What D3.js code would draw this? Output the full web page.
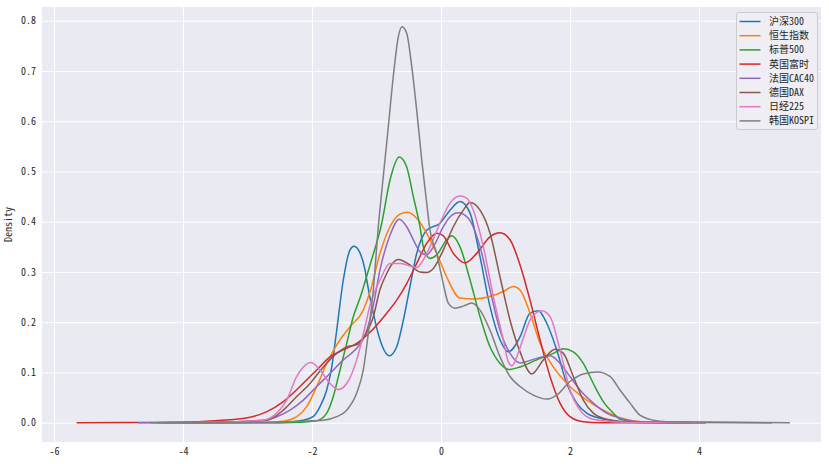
<!DOCTYPE html>
<html><head><meta charset="utf-8">
<script src="https://cdn.jsdelivr.net/npm/d3@7"></script>
<style>body{margin:0;background:#fff}text{font-family:"Noto Sans Mono CJK SC","Noto Sans CJK SC","DejaVu Sans",sans-serif}</style>
</head><body><svg id="c" width="829" height="464"></svg>
<script>
const seriesNames = ["沪深300","恒生指数","标普500","英国富时","法国CAC40","德国DAX","日经225","韩国KOSPI"];
const colors = ["#1f77b4","#ff7f0e","#2ca02c","#d62728","#9467bd","#8c564b","#e377c2","#7f7f7f"];
const xTicks = [-6,-4,-2,0,2,4];
const yTicks = [0,0.1,0.2,0.3,0.4,0.5,0.6,0.7,0.8];

const hs300 = [[-4.3,0],[-2.5,0],[-2.14,0.005],[-1.984,0.012],[-1.876,0.032],[-1.772,0.065],[-1.695,0.11],[-1.617,0.184],[-1.515,0.284],[-1.411,0.344],[-1.349,0.351],[-1.256,0.338],[-1.178,0.304],[-1.152,0.284],[-1.05,0.218],[-0.946,0.165],[-0.802,0.133],[-0.687,0.151],[-0.584,0.204],[-0.481,0.271],[-0.377,0.337],[-0.222,0.383],[-0.016,0.397],[0.14,0.423],[0.295,0.44],[0.45,0.417],[0.605,0.33],[0.76,0.231],[0.915,0.165],[1.043,0.141],[1.225,0.171],[1.38,0.218],[1.509,0.223],[1.639,0.198],[1.794,0.145],[1.948,0.078],[2.104,0.039],[2.259,0.019],[2.465,0.009],[2.667,0.004],[3.085,0.0005],[4.1,0]];
const hsi = [[-4.2,0],[-2.8,0.0005],[-2.45,0.003],[-2.237,0.012],[-2.082,0.032],[-1.927,0.072],[-1.772,0.118],[-1.617,0.155],[-1.411,0.191],[-1.205,0.224],[-1.101,0.26],[-0.946,0.337],[-0.791,0.39],[-0.636,0.415],[-0.52,0.419],[-0.377,0.407],[-0.222,0.377],[-0.067,0.337],[0.088,0.29],[0.295,0.248],[0.501,0.246],[0.76,0.251],[0.966,0.261],[1.121,0.271],[1.225,0.264],[1.38,0.218],[1.535,0.158],[1.741,0.111],[2.0,0.072],[2.259,0.045],[2.516,0.025],[2.775,0.01],[2.977,0.004],[3.4,0.0006],[4.1,0]];
const sp500 = [[-4.0,0],[-2.3,0.0005],[-1.927,0.004],[-1.772,0.019],[-1.67,0.052],[-1.566,0.105],[-1.462,0.158],[-1.36,0.211],[-1.256,0.248],[-1.101,0.314],[-0.919,0.397],[-0.791,0.483],[-0.647,0.529],[-0.532,0.509],[-0.429,0.45],[-0.326,0.39],[-0.274,0.35],[-0.171,0.327],[-0.067,0.334],[0.088,0.364],[0.166,0.372],[0.295,0.35],[0.45,0.284],[0.605,0.211],[0.76,0.151],[0.915,0.118],[1.07,0.106],[1.225,0.111],[1.484,0.125],[1.741,0.138],[1.896,0.147],[2.051,0.141],[2.206,0.118],[2.361,0.078],[2.516,0.042],[2.671,0.019],[2.775,0.007],[3.085,0.001],[4.0,0]];
const ftse = [[-5.65,0],[-4.5,0.0005],[-4.0,0.001],[-3.5,0.004],[-2.96,0.011],[-2.70,0.022],[-2.445,0.042],[-2.186,0.072],[-1.927,0.105],[-1.721,0.131],[-1.515,0.145],[-1.307,0.158],[-1.101,0.18],[-0.842,0.218],[-0.687,0.244],[-0.532,0.277],[-0.377,0.317],[-0.222,0.357],[-0.067,0.377],[0.036,0.372],[0.191,0.337],[0.372,0.318],[0.553,0.337],[0.76,0.37],[0.915,0.378],[1.07,0.364],[1.225,0.314],[1.38,0.244],[1.535,0.165],[1.69,0.092],[1.845,0.039],[2.0,0.012],[2.206,0.002],[2.465,0],[3.9,0]];
const cac40 = [[-4.7,0],[-3.5,0.001],[-2.755,0.005],[-2.547,0.012],[-2.341,0.025],[-2.135,0.045],[-1.927,0.072],[-1.721,0.098],[-1.515,0.125],[-1.307,0.148],[-1.205,0.166],[-1.05,0.233],[-0.946,0.304],[-0.791,0.373],[-0.647,0.405],[-0.532,0.39],[-0.429,0.364],[-0.326,0.34],[-0.222,0.334],[-0.119,0.35],[0.036,0.39],[0.14,0.41],[0.268,0.418],[0.423,0.407],[0.605,0.35],[0.76,0.264],[0.915,0.184],[1.07,0.138],[1.225,0.119],[1.484,0.128],[1.69,0.133],[1.845,0.118],[2.0,0.092],[2.155,0.065],[2.361,0.039],[2.569,0.019],[2.775,0.009],[3.085,0.002],[4.1,0]];
const dax = [[-4.4,0],[-3.5,0.001],[-2.70,0.005],[-2.445,0.025],[-2.237,0.052],[-2.031,0.078],[-1.825,0.111],[-1.617,0.138],[-1.462,0.151],[-1.307,0.155],[-1.205,0.169],[-1.05,0.211],[-0.946,0.265],[-0.842,0.297],[-0.76,0.316],[-0.662,0.325],[-0.481,0.314],[-0.326,0.30],[-0.222,0.299],[-0.119,0.307],[0.036,0.344],[0.191,0.39],[0.346,0.423],[0.45,0.438],[0.605,0.423],[0.76,0.377],[0.915,0.29],[1.07,0.204],[1.225,0.141],[1.406,0.097],[1.586,0.125],[1.767,0.146],[1.896,0.138],[2.051,0.092],[2.206,0.045],[2.361,0.019],[2.569,0.007],[2.93,0.001],[5.13,0]];
const n225 = [[-4.4,0],[-3.5,0.001],[-2.755,0.005],[-2.547,0.019],[-2.392,0.045],[-2.237,0.092],[-2.135,0.111],[-2.016,0.12],[-1.876,0.105],[-1.721,0.078],[-1.592,0.066],[-1.462,0.078],[-1.307,0.125],[-1.178,0.191],[-1.101,0.234],[-0.946,0.284],[-0.791,0.317],[-0.636,0.317],[-0.481,0.312],[-0.377,0.309],[-0.274,0.324],[-0.171,0.35],[-0.016,0.397],[0.14,0.437],[0.295,0.451],[0.398,0.447],[0.501,0.423],[0.656,0.35],[0.811,0.251],[0.966,0.165],[1.043,0.121],[1.1,0.113],[1.174,0.131],[1.302,0.178],[1.38,0.204],[1.561,0.223],[1.69,0.211],[1.845,0.145],[2.0,0.065],[2.155,0.025],[2.31,0.009],[2.516,0.004],[2.93,0.0005],[4.1,0]];
const kospi = [[-4.5,0],[-2.6,0.001],[-2.186,0.003],[-1.825,0.005],[-1.617,0.012],[-1.462,0.025],[-1.307,0.059],[-1.205,0.105],[-1.127,0.178],[-1.05,0.264],[-0.972,0.39],[-0.895,0.49],[-0.817,0.589],[-0.74,0.689],[-0.662,0.768],[-0.605,0.788],[-0.532,0.775],[-0.454,0.709],[-0.377,0.622],[-0.299,0.523],[-0.222,0.437],[-0.171,0.383],[-0.067,0.337],[0.036,0.276],[0.113,0.238],[0.217,0.228],[0.346,0.232],[0.476,0.238],[0.605,0.224],[0.76,0.184],[0.915,0.131],[1.07,0.092],[1.225,0.072],[1.431,0.055],[1.639,0.047],[1.794,0.055],[2.0,0.082],[2.206,0.097],[2.43,0.101],[2.62,0.092],[2.775,0.065],[2.93,0.039],[3.085,0.015],[3.291,0.005],[3.499,0.002],[5.41,0]];
const allSeries = [hs300,hsi,sp500,ftse,cac40,dax,n225,kospi];

const svg = d3.select("#c");
const L=42,R=821,T=7,B=442;
const x = d3.scaleLinear().domain([-6.186,5.891]).range([L,R]);
const y = d3.scaleLinear().domain([-0.0384,0.8273]).range([B,T]);

svg.append("rect").attr("x",L).attr("y",T).attr("width",R-L).attr("height",B-T).attr("fill","#EAEAF2");
const gx = svg.append("g").attr("transform",`translate(0,${B})`)
  .call(d3.axisBottom(x).tickValues(xTicks).tickSize(-(B-T)).tickPadding(6).tickFormat(d=>String(d)));
const gy = svg.append("g").attr("transform",`translate(${L},0)`)
  .call(d3.axisLeft(y).tickValues(yTicks).tickSize(-(R-L)).tickPadding(6).tickFormat(d3.format(".1f")));
[gx,gy].forEach(g=>{
  g.select(".domain").remove();
  g.selectAll(".tick line").attr("stroke","#fff").attr("stroke-width",1);
  g.selectAll(".tick text").attr("fill","#262626").style("font-size","10px");
});

const line = d3.line().x(d=>x(d[0])).y(d=>y(d[1])).curve(d3.curveMonotoneX);
const plot = svg.append("g");
allSeries.forEach((s,i)=>{
  plot.append("path").datum(s).attr("d",line).attr("fill","none").attr("stroke",colors[i]).attr("stroke-width",1.5);
});

svg.append("text").attr("transform",`translate(12,${(T+B)/2}) rotate(-90)`).attr("text-anchor","middle")
  .attr("fill","#262626").style("font-size","10px").text("Density");

const lg = svg.append("g");
lg.append("rect").attr("x",736.5).attr("y",12.5).attr("width",81).attr("height",117).attr("rx",2.5)
  .attr("fill","#EEEEF4").attr("stroke","#CCCCCC").attr("stroke-width",1);
seriesNames.forEach((n,i)=>{
  const yy = 21.5 + i*14.2;
  lg.append("line").attr("x1",739.5).attr("x2",760.5).attr("y1",yy).attr("y2",yy).attr("stroke",colors[i]).attr("stroke-width",1.5);
  lg.append("text").attr("x",769).attr("y",yy).attr("dy","0.35em").attr("fill","#262626").style("font-size","10px").text(n);
});
</script></body></html>
